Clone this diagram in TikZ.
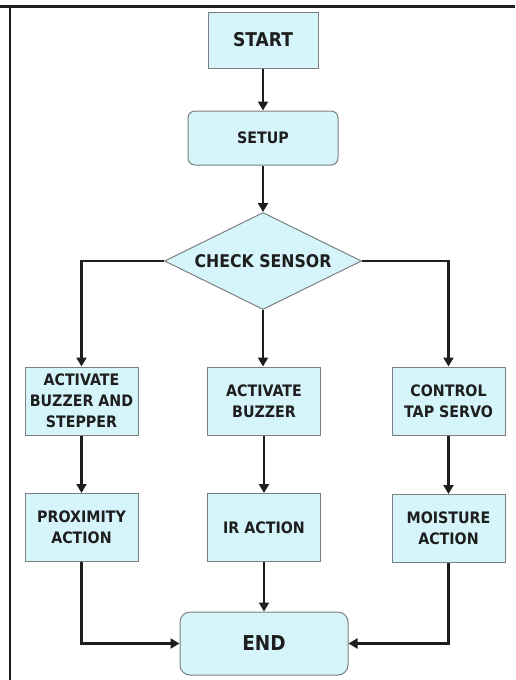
\documentclass[tikz,border=0pt]{standalone}
\usepackage{fontspec}
\setmainfont{DejaVu Sans}[FakeStretch=0.9]
\usepackage{tikz}
\usetikzlibrary{arrows.meta,positioning,shapes.geometric}
\definecolor{ink}{HTML}{1E1E1E}
\definecolor{edge}{HTML}{7A7F80}
\definecolor{cyanfill}{HTML}{D6F5FA}
\tikzset{
  arr/.style={-{Triangle[length=9pt,width=10pt]}, line width=2.2pt, draw=ink},
  figbase/.style={
    x=1pt, y=-1pt,
    font=\bfseries\fontsize{15.8}{21}\selectfont,
    color=ink,
  },
  box/.style={
    draw=edge, line width=1pt,
    fill=cyanfill,
    inner sep=2pt,
    align=center,
    text=ink,
  },
  stepbox/.style={box, minimum width=113pt, minimum height=68pt},
  roundbox/.style={box, rounded corners=7pt},
  decision/.style={box, diamond, aspect=2, inner sep=0pt,
    minimum width=197pt, minimum height=97pt},
}

\begin{document}
\begin{tikzpicture}[figbase]
  \useasboundingbox (0,0) rectangle (515,680);
  % frame
  \draw[line width=3pt, draw=ink] (0,6.5) -- (515,6.5);
  \draw[line width=1.5pt, draw=ink] (10,6) -- (10,680);

  \node[box, minimum width=110pt, minimum height=56pt,
    font=\bfseries\fontsize{19}{22}\selectfont] (start) at (263,40) {START};
  \node[roundbox, minimum width=150pt, minimum height=54pt] (setup) at (263,138) {SETUP};
  \node[decision, font=\bfseries\fontsize{17.5}{20}\selectfont] (check) at (263,261) {CHECK SENSOR};

  \node[stepbox] (actstep) at (81.5,401) {ACTIVATE\\BUZZER AND\\STEPPER};
  \node[stepbox] (actbuzz) at (264,401) {ACTIVATE\\BUZZER};
  \node[stepbox] (tapservo) at (448.5,401) {CONTROL\\TAP SERVO};

  \node[stepbox] (proxact) at (81.5,527.5) {PROXIMITY\\ACTION};
  \node[stepbox] (iract) at (264,527.5) {IR ACTION};
  \node[stepbox] (moistact) at (448.5,528.5) {MOISTURE\\ACTION};

  \node[roundbox, rounded corners=10pt, minimum width=168pt, minimum height=63pt,
    font=\bfseries\fontsize{20.5}{22}\selectfont] (end) at (264,643.5) {END};

  \draw[arr] (start) -- (setup);
  \draw[arr] (setup) -- (check);
  \draw[arr] (check.west) -| (actstep.north);
  \draw[arr] (check.south) -- (check.south |- actbuzz.north);
  \draw[arr] (check.east) -| (tapservo.north);

  \draw[arr] (actstep) -- (proxact);
  \draw[arr] (actbuzz) -- (iract);
  \draw[arr] (tapservo) -- (moistact);

  \draw[arr] (proxact.south) |- (end.west);
  \draw[arr] (iract) -- (end);
  \draw[arr] (moistact.south) |- (end.east);
\end{tikzpicture}
\end{document}
